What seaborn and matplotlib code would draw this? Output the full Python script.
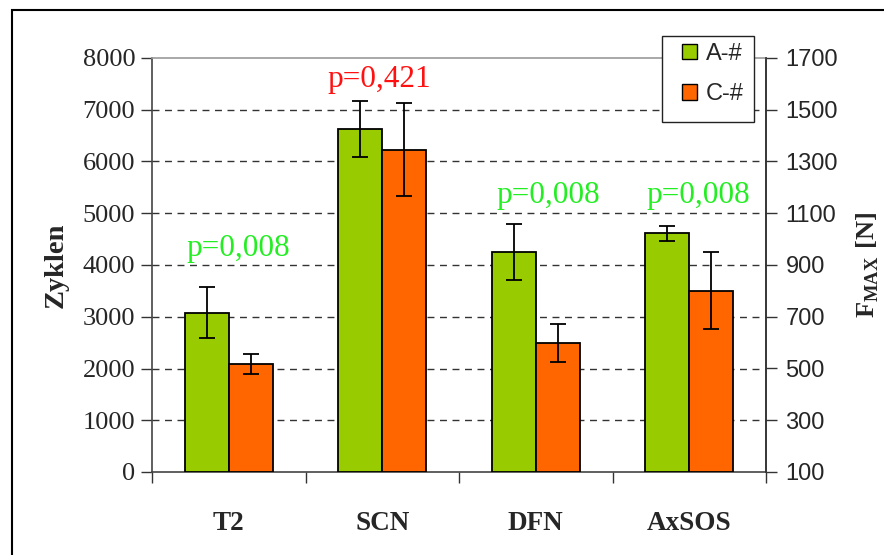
import numpy as np
import pandas as pd
import matplotlib
matplotlib.use("Agg")
import matplotlib.pyplot as plt
from matplotlib.patches import Patch, Rectangle
import seaborn as sns

# ---- data ----
categories = ["T2", "SCN", "DFN", "AxSOS"]
series = ["A-#", "C-#"]
values_a = [3080, 6620, 4250, 4610]
errors_a = [500, 540, 540, 140]
values_c = [2080, 6230, 2500, 3500]
errors_c = [195, 905, 365, 745]
p_values = ["p=0,008", "p=0,421", "p=0,008", "p=0,008"]
p_colors = ["#22EE22", "#FF1111", "#22EE22", "#22EE22"]
left_ticks = [0, 1000, 2000, 3000, 4000, 5000, 6000, 7000, 8000]
right_ticks = [100, 300, 500, 700, 900, 1100, 1300, 1500, 1700]

colors = ["#99CC00", "#FF6600"]

df = pd.DataFrame({
    "cat": categories * 2,
    "grp": [series[0]] * 4 + [series[1]] * 4,
    "val": values_a + values_c,
})

sns.set_style("white")
plt.rcParams["font.family"] = ["Liberation Serif", "DejaVu Serif"]
plt.rcParams["mathtext.fontset"] = "custom"
plt.rcParams["mathtext.rm"] = "Liberation Serif"
plt.rcParams["mathtext.bf"] = "Liberation Serif:bold"

W, H = 884, 555
fig = plt.figure(figsize=(W / 100, H / 100), dpi=100)
ax = fig.add_axes([152 / W, 1 - 472 / H, (766 - 152) / W, (472 - 58) / H])

sns.barplot(data=df, x="cat", y="val", hue="grp", order=categories,
            hue_order=series, palette=colors, width=0.575, errorbar=None,
            edgecolor="black", linewidth=1.3, saturation=1, legend=False, ax=ax,
            zorder=3)

errs = [errors_a, errors_c]
for cont, er in zip(ax.containers, errs):
    xs = [b.get_x() + b.get_width() / 2 for b in cont]
    ys = [b.get_height() for b in cont]
    ax.errorbar(xs, ys, yerr=er, fmt="none", ecolor="black",
                elinewidth=1.3, capsize=5.5, capthick=1.3, zorder=4)

ax.set_ylim(0, 8000)
ax.set_xlim(-0.5, 3.5)
ax.set_yticks(left_ticks)
ax.set_yticklabels([str(t) for t in left_ticks], fontsize=19)
ax.tick_params(axis="y", direction="out", length=8, width=1, color="#333333", pad=4, left=True)
ax.set_xticks(range(len(categories)))
ax.set_xticklabels(categories, fontsize=19.5, fontweight="bold")
ax.tick_params(axis="x", length=0, pad=28)
ax.set_xticks([-0.5, 0.5, 1.5, 2.5, 3.5], minor=True)
ax.tick_params(axis="x", which="minor", direction="out", length=8, width=1, color="#333333", bottom=True)
ax.set_xlabel("")
ax.set_ylabel("Zyklen", fontsize=20.5, fontweight="bold", labelpad=10)

for y in left_ticks[1:-1]:
    ax.axhline(y, color="#333333", linestyle=(0, (5, 4)), linewidth=1.0, zorder=1)

for s in ["left", "bottom", "right"]:
    ax.spines[s].set_color("#444444")
    ax.spines[s].set_linewidth(1.2)
ax.spines["top"].set_color("#999999")
ax.spines["top"].set_linewidth(1.2)

# right axis
ax2 = ax.twinx()
ax2.set_ylim(100, 1700)
ax2.set_yticks(right_ticks)
ax2.set_yticklabels([str(t) for t in right_ticks], fontsize=17,
                    family=["Liberation Sans", "DejaVu Sans"])
ax2.tick_params(axis="y", direction="out", length=8, width=1, color="#333333", pad=6, right=True)
ax2.set_ylabel(r"$\mathbf{F}_{\mathbf{MAX}}\ \mathbf{[N]}$", fontsize=19, labelpad=12)
for s in ax2.spines.values():
    s.set_visible(False)
ax2.spines["right"].set_visible(True)
ax2.spines["right"].set_color("#333333")
ax2.spines["right"].set_linewidth(1.2)

# p-values
p_dx = [0.06, -0.02, 0.08, 0.06]
p_y = [4180, 7430, 5190, 5190]
for i, (t, c) in enumerate(zip(p_values, p_colors)):
    ax.text(i + p_dx[i], p_y[i], t, color=c, fontsize=22.5, ha="center", va="baseline", zorder=5)

# legend (frame drawn separately)
fig.patches.append(Rectangle((662 / W, 1 - 122 / H), 92 / W, 86 / H,
                             transform=fig.transFigure, facecolor="white",
                             edgecolor="#222222", linewidth=1.0, zorder=5))
handles = [Patch(facecolor=colors[0], edgecolor="black", linewidth=1),
           Patch(facecolor=colors[1], edgecolor="black", linewidth=1)]
leg = fig.legend(handles, series, loc="upper left",
                 bbox_to_anchor=(682 / W, 1 - 43 / H),
                 prop={"family": ["Liberation Sans", "DejaVu Sans"], "size": 17},
                 frameon=False,
                 handlelength=0.62, handleheight=0.62, handletextpad=0.4,
                 labelspacing=0.78, borderpad=0, borderaxespad=0)
leg.set_zorder(6)

# figure border (left and top visible)
fig.patches.append(Rectangle((12 / W, -0.05), 1.2, 1 - 10 / H + 0.05,
                             transform=fig.transFigure, fill=False,
                             edgecolor="black", linewidth=1.5, zorder=0))

fig.savefig("out.png", dpi=100)
